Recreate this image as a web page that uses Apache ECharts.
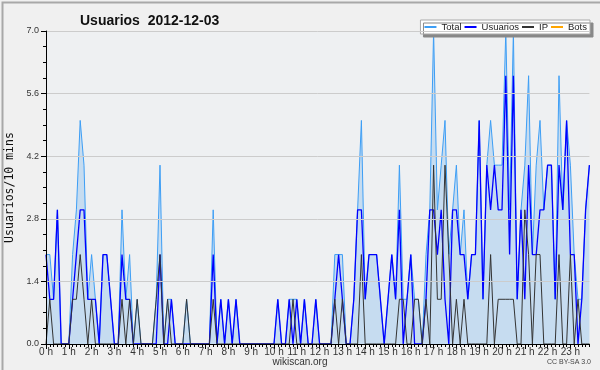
<!DOCTYPE html>
<html><head><meta charset="utf-8">
<script src="https://cdn.jsdelivr.net/npm/echarts@6/dist/echarts.min.js"></script>
<style>html,body{margin:0;padding:0;background:#f0f0f0}#c{width:600px;height:370px}</style>
</head><body><div id="c"></div>
<script>
// 10-minute slots across the day (144 slots)
const hourLabels = ["0 h","1 h","2 h","3 h","4 h","5 h","6 h","7 h","8 h","9 h","10 h","11 h","12 h","13 h","14 h","15 h","16 h","17 h","18 h","19 h","20 h","21 h","22 h","23 h"];
const yTicks = [0, 1.4, 2.8, 4.2, 5.6, 7.0];
const seriesNames = ["Total","Usuarios","IP","Bots"];

const total = [
 2,2,1,3,0,0,0,2,3,5,4,1,2,1,0,2,2,1,0,0,3,1,2,0,
 1,0,0,0,0,1,4,0,1,1,0,0,0,1,0,0,0,0,0,0,3,0,1,0,1,0,
 1,0,0,0,0,0,0,0,0,0,0,1,0,0,1,1,1,0,1,0,0,1,0,0,0,0,
 2,2,2,0,0,1,3,5,1,2,2,2,1,0,1,2,1,4,1,1,2,1,1,0,
 2,3,7,3,4,5,2,3,4,2,3,1,2,2,5,1,4,5,4,4,4,7,3,7,1,3,4,6,2,4,5,3,4,4,1,6,3,5,4,2,1,1,3,4];
const usuarios = [
 2,1,1,3,0,0,0,1,2,3,3,1,1,1,0,2,2,1,0,0,2,1,1,0,
 0,0,0,0,0,0,2,0,0,1,0,0,0,0,0,0,0,0,0,0,2,0,1,0,1,0,
 1,0,0,0,0,0,0,0,0,0,0,1,0,0,1,0,1,0,1,0,0,1,0,0,0,0,
 1,2,1,0,0,1,3,3,1,2,2,2,1,0,1,2,1,3,0,1,2,0,0,0,
 1,3,3,2,3,1,0,3,3,2,2,1,2,2,5,1,4,3,4,3,3,6,2,6,1,3,1,4,2,2,3,3,4,4,1,4,3,5,2,2,0,1,3,4];
const ip = [
 0,1,0,0,0,0,0,1,1,2,1,0,1,0,0,0,0,0,0,0,1,0,1,0,
 1,0,0,0,0,1,2,0,1,0,0,0,0,1,0,0,0,0,0,0,1,0,0,0,0,0,
 0,0,0,0,0,0,0,0,0,0,0,0,0,0,0,1,0,0,0,0,0,0,0,0,0,0,
 1,0,1,0,0,0,0,2,0,0,0,0,0,0,0,0,0,1,1,0,0,1,1,0,
 1,0,4,1,1,4,2,0,1,0,1,0,0,0,0,0,0,2,0,1,1,1,1,1,0,0,3,2,0,2,2,0,0,0,0,2,0,0,2,0,1,0,0,0];
const bots = [
 0,0,0,0,0,0,0,0,0,0,0,0,0,0,0,0,0,0,0,0,0,0,0,0,
 0,0,0,0,0,0,0,0,0,0,0,0,0,0,0,0,0,0,0,0,0,0,0,0,0,0,
 0,0,0,0,0,0,0,0,0,0,0,0,0,0,0,0,0,0,0,0,0,0,0,0,0,0,
 0,0,0,0,0,0,0,0,0,0,0,0,0,0,0,0,0,0,0,0,0,0,0,0,
 0,0,0,0,0,0,0,0,0,0,0,0,0,0,0,0,0,0,0,0,0,0,0,0,0,0,0,0,0,0,0,0,0,0,0,0,0,0,0,0,0,0,0,0];

const slots = total.map((_, i) => i);
const chart = echarts.init(document.getElementById('c'), null, {renderer: 'canvas'});
const FONT = 'Liberation Sans';
chart.setOption({
  animation: false,
  backgroundColor: '#f0f0f0',
  textStyle: {fontFamily: FONT},
  title: {
    text: 'Usuarios  2012-12-03', left: 75, top: 9,
    textStyle: {fontSize: 14, fontWeight: 'bold', color: '#111', fontFamily: FONT}
  },
  legend: {
    data: seriesNames, right: 10, top: 20, orient: 'horizontal',
    backgroundColor: '#ffffff', borderColor: '#aaaaaa', borderWidth: 1,
    shadowColor: '#888888', shadowBlur: 0, shadowOffsetX: 3, shadowOffsetY: 3,
    padding: [2, 3, 2, 4], itemGap: 3, itemWidth: 12, itemHeight: 2, icon: 'rect',
    textStyle: {fontSize: 9.5, color: '#222', fontFamily: FONT}
  },
  grid: {left: 46, right: 10.6, top: 31, bottom: 26, show: true, backgroundColor: '#eef0f2', borderWidth: 0,
         containLabel: false, outerBoundsMode: 'none'},
  xAxis: [{
    type: 'category', data: slots, boundaryGap: false, z: 5,
    axisLine: {lineStyle: {color: '#000', width: 1}},
    axisTick: {show: true, interval: 0, length: 3, lineStyle: {color: '#000'}},
    axisLabel: {
      interval: 0, margin: 3, fontSize: 10, color: '#333', fontFamily: FONT,
      formatter: (v, i) => (i % 6 === 0 ? hourLabels[i / 6] : '')
    },
    splitLine: {show: false}
  }, {
    type: 'category', data: slots, boundaryGap: false, position: 'bottom', z: 5,
    axisLine: {show: false},
    axisTick: {show: true, interval: 5, length: 5, lineStyle: {color: '#000'}},
    axisLabel: {show: false}, splitLine: {show: false}
  }],
  yAxis: {
    type: 'value', min: yTicks[0], max: yTicks[yTicks.length - 1], interval: 1.4, z: 5,
    name: 'Usuarios/10 mins', nameLocation: 'middle', nameGap: 30, nameRotate: 90,
    nameTextStyle: {fontFamily: 'DejaVu Sans Mono', fontSize: 11.5, color: '#111'},
    axisLine: {show: true, lineStyle: {color: '#000', width: 1}},
    axisTick: {show: true, length: 5, lineStyle: {color: '#000'}},
    minorTick: {show: true, splitNumber: 4, length: 3, lineStyle: {color: '#000'}},
    axisLabel: {margin: 7, fontSize: 9, color: '#333', formatter: v => v.toFixed(1)},
    splitLine: {show: true, lineStyle: {color: '#cccccc', width: 1}}
  },
  series: [
    {name: 'Total', type: 'line', data: total, symbol: 'none', z: 2,
     itemStyle: {color: '#3d9ef5'}, lineStyle: {color: '#3d9ef5', width: 1},
     areaStyle: {color: '#c6dcf0', opacity: 1}},
    {name: 'Usuarios', type: 'line', data: usuarios, symbol: 'none', z: 3,
     itemStyle: {color: '#0000ff'}, lineStyle: {color: '#0000ff', width: 1.3}},
    {name: 'IP', type: 'line', data: ip, symbol: 'none', z: 4,
     itemStyle: {color: '#333333'}, lineStyle: {color: '#333333', width: 1}},
    {name: 'Bots', type: 'line', data: bots, symbol: 'none', z: 1,
     itemStyle: {color: '#ffa500'}, lineStyle: {color: '#ffa500', width: 1}}
  ],
  graphic: [
    {type: 'rect', left: 0, top: 0, shape: {width: 599, height: 369}, style: {fill: 'none', stroke: '#a8a8a8', lineWidth: 2}, silent: true},
    {type: 'text', left: 'center', top: 357, style: {text: 'wikiscan.org', fontSize: 10, fill: '#333', fontFamily: FONT}},
    {type: 'text', right: 9, top: 359, style: {text: 'CC BY-SA 3.0', fontSize: 7, fill: '#444', fontFamily: FONT}}
  ]
});
</script></body></html>
